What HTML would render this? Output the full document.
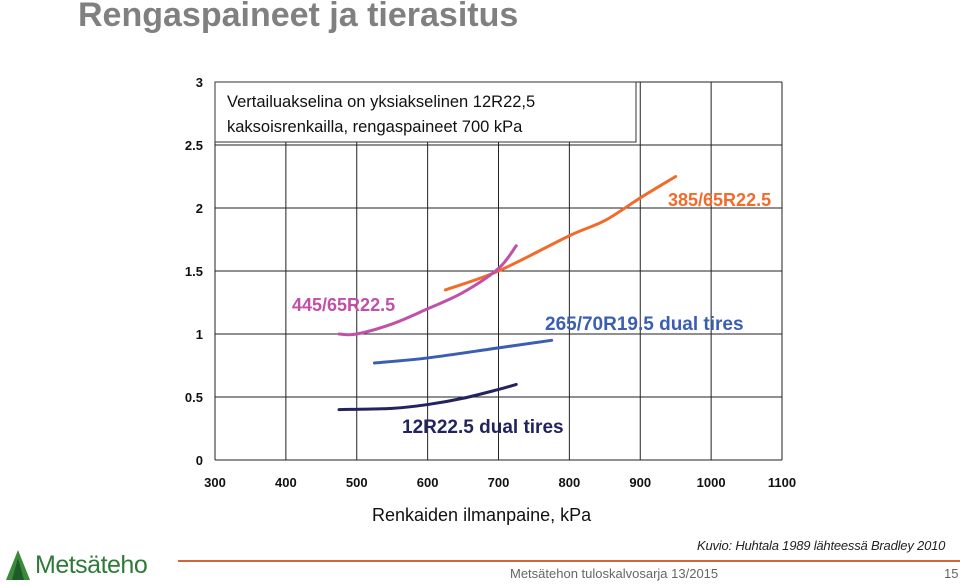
<!DOCTYPE html>
<html><head><meta charset="utf-8"><style>
body{margin:0;width:960px;height:584px;background:#fff;overflow:hidden;font-family:"Liberation Sans",sans-serif;position:relative}
.t{position:absolute;white-space:nowrap}
</style></head><body>
<div class="t" style="left:78px;top:-4px;font-size:34px;font-weight:bold;color:#808080">Rengaspaineet ja tierasitus</div>
<svg width="960" height="584" style="position:absolute;left:0;top:0">
<g id="grid"></g><g id="series"></g><g id="labels"></g>
</svg>
<div class="t" style="left:372px;top:505px;font-size:18px;color:#111">Renkaiden ilmanpaine, kPa</div>
<div class="t" style="left:697px;top:538px;font-size:13px;font-style:italic;color:#222;letter-spacing:-0.2px">Kuvio: Huhtala 1989 lähteessä Bradley 2010</div>
<div style="position:absolute;left:178px;top:560px;width:782px;height:2px;background:#d0643a"></div>
<div class="t" style="left:510px;top:566px;font-size:13px;color:#666">Metsätehon tuloskalvosarja 13/2015</div>
<div class="t" style="left:944px;top:566px;font-size:13px;color:#666">15</div>
<div style="position:absolute;left:4px;top:550px">
<svg width="28" height="30"><polygon points="14,0 26,30 2,30" fill="#3a8a3a"/><polygon points="14,8 20,30 8,30" fill="#1d5c2a"/></svg>
<span class="t" style="left:31px;top:1px;font-size:25px;color:#2f7a3a;letter-spacing:-0.5px">Metsäteho</span></div>
<script>
const NS="http://www.w3.org/2000/svg";
const xTicks=[300,400,500,600,700,800,900,1000,1100];
const yTicks=[0,0.5,1,1.5,2,2.5,3];
const orangeX=[625,700,800,850,900,950], orangeY=[1.35,1.5,1.78,1.9,2.08,2.25];
const magX=[475,500,550,600,650,700,725], magY=[1.0,1.0,1.08,1.2,1.33,1.52,1.7];
const blueX=[525,600,700,775], blueY=[0.77,0.81,0.89,0.95];
const navyX=[475,550,600,650,700,725], navyY=[0.4,0.41,0.44,0.49,0.56,0.6];
const L=215,R=782,T=82,B=460;
const sx=v=>L+(v-300)/800*(R-L), sy=v=>B-v/3*(B-T);
function mk(tag,a,p){const e=document.createElementNS(NS,tag);for(const k in a)e.setAttribute(k,a[k]);p.appendChild(e);return e;}
const g=document.getElementById('grid');
xTicks.forEach(v=>{const l=mk('line',{x1:sx(v),x2:sx(v),y1:T,y2:B,stroke:'#222','stroke-width':1},g);


const t=mk('text',{x:sx(v),y:B+27,'text-anchor':'middle','font-size':13,'font-weight':'bold',fill:'#111'},g);t.textContent=v;

});
yTicks.forEach(v=>{const l=mk('line',{x1:L,x2:R,y1:sy(v),y2:sy(v),stroke:'#222','stroke-width':1},g);


const t=mk('text',{x:L-12,y:sy(v)+5,'text-anchor':'end','font-size':13,'font-weight':'bold',fill:'#111'},g);t.textContent=v;

});
const box=mk('rect',{x:L,y:T,width:421,height:60,fill:'#fff',stroke:'#333'},g);


[["Vertailuakselina on yksiakselinen 12R22,5",107],["kaksoisrenkailla, rengaspaineet 700 kPa",132]].forEach(([s,y])=>{const t=mk('text',{x:227,y:y,'font-size':16.5,fill:'#111'},g);t.textContent=s;

});
const sg=document.getElementById('series');
function line(xs,ys,c,n){const P=xs.map((x,i)=>[sx(x),sy(ys[i])]);let d='M'+P[0];
for(let i=0;i<P.length-1;i++){const p0=P[i-1]||P[i],p1=P[i],p2=P[i+1],p3=P[i+2]||p2;
const c1=[p1[0]+(p2[0]-p0[0])/6,p1[1]+(p2[1]-p0[1])/6],c2=[p2[0]-(p3[0]-p1[0])/6,p2[1]-(p3[1]-p1[1])/6];
d+=' C'+c1+' '+c2+' '+p2;}
const p=mk('path',{d:d,fill:'none',stroke:c,'stroke-width':3,'stroke-linecap':'round'},sg);

}
line(orangeX,orangeY,'#f26b2a','line-385-65r22-5');
line(magX,magY,'#c050a8','line-445-65r22-5');
line(blueX,blueY,'#3a5eb0','line-265-70r19-5');
line(navyX,navyY,'#23235e','line-12r22-5');
const lg=document.getElementById('labels');
[["385/65R22.5",668,206,'#f26b2a',18],["445/65R22.5",292,311,'#c050a8',18],["265/70R19.5 dual tires",545,330,'#3a5eb0',19],["12R22.5 dual tires",402,433,'#23235e',19]].forEach(([s,x,y,c,f])=>{const t=mk('text',{x:x,y:y,'font-size':f,'font-weight':'bold',fill:c},lg);t.textContent=s;

});
</script>
</body></html>
